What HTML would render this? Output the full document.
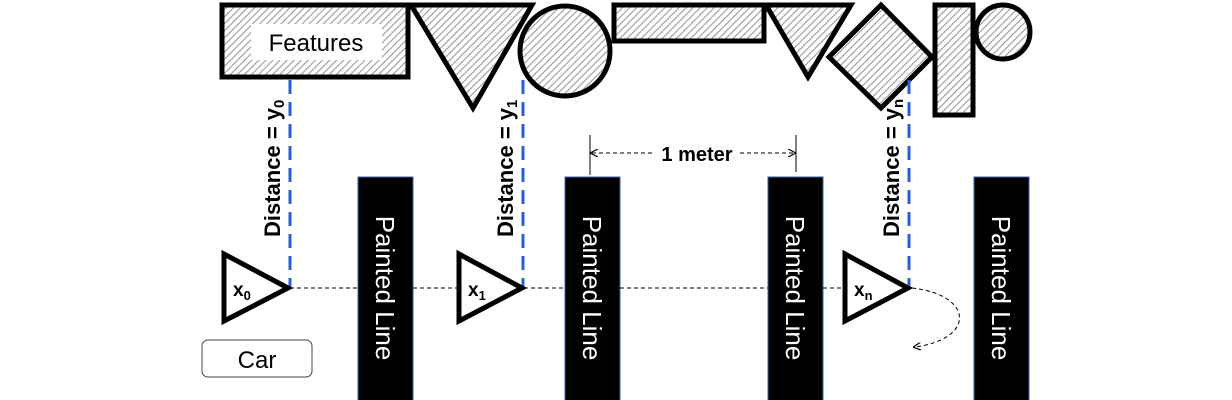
<!DOCTYPE html>
<html><head><meta charset="utf-8"><style>
html,body{margin:0;padding:0;background:#fff}
svg{display:block}
text{font-family:"Liberation Sans",sans-serif}
</style></head><body>
<svg width="1232" height="400" viewBox="0 0 1232 400">
<defs>
<pattern id="hatch" patternUnits="userSpaceOnUse" width="5" height="5" patternTransform="rotate(45)">
<rect width="5" height="5" fill="#fff"/><line x1="0" y1="0" x2="0" y2="5" stroke="#9a9a9a" stroke-width="2.2"/>
</pattern>
<marker id="ah" markerWidth="8" markerHeight="8" refX="7" refY="4" orient="auto"><path d="M0,0 L8,4 L0,8" fill="none" stroke="#000" stroke-width="1.2"/></marker>
</defs>
<g stroke="#000" stroke-width="5" fill="url(#hatch)">
<rect x="222" y="5" width="186" height="72"/>
<polygon points="411,5 532,5 473,108"/>
<circle cx="565" cy="51" r="45"/>
<rect x="614" y="5" width="150" height="36"/>
<polygon points="766,5 851,5 808,77"/>
<polygon points="881,5 932,57 881,108 829,57"/>
<rect x="935" y="5" width="38" height="110"/>
<circle cx="1003" cy="32" r="27"/>
</g>
<rect x="251" y="24" width="131" height="36" fill="#fff"/>
<text x="316" y="51" font-size="24" text-anchor="middle">Features</text>
<g>
<g><rect x="358" y="177" width="55" height="225" fill="#000" stroke="#3a5cb0" stroke-width="1"/><text transform="translate(376,288) rotate(90)" font-size="26" fill="#fff" text-anchor="middle">Painted Line</text></g>
<g><rect x="565" y="177" width="55" height="225" fill="#000" stroke="#3a5cb0" stroke-width="1"/><text transform="translate(583,288) rotate(90)" font-size="26" fill="#fff" text-anchor="middle">Painted Line</text></g>
<g><rect x="768" y="177" width="55" height="225" fill="#000" stroke="#3a5cb0" stroke-width="1"/><text transform="translate(786,288) rotate(90)" font-size="26" fill="#fff" text-anchor="middle">Painted Line</text></g>
<g><rect x="974" y="177" width="55" height="225" fill="#000" stroke="#3a5cb0" stroke-width="1"/><text transform="translate(992,288) rotate(90)" font-size="26" fill="#fff" text-anchor="middle">Painted Line</text></g>
</g>
<g stroke="#000" stroke-width="1" stroke-dasharray="4,3">
<line x1="290" y1="288" x2="358" y2="288"/><line x1="413" y1="288" x2="460" y2="288"/><line x1="524" y1="288" x2="565" y2="288"/><line x1="620" y1="288" x2="768" y2="288"/><line x1="823" y1="288" x2="845" y2="288"/>
</g>
<g stroke="#2b5fd0" stroke-width="3" stroke-dasharray="14,8">
<line x1="290" y1="80" x2="290" y2="288"/>
<line x1="523" y1="80" x2="523" y2="288"/>
<line x1="909" y1="80" x2="909" y2="288"/>
</g>
<g font-size="22" font-weight="bold">
<text transform="translate(280,237) rotate(-90)">Distance = y<tspan font-size="15" dy="4">0</tspan></text>
<text transform="translate(513,237) rotate(-90)">Distance = y<tspan font-size="15" dy="4">1</tspan></text>
<text transform="translate(899,237) rotate(-90)">Distance = y<tspan font-size="15" dy="4">n</tspan></text>
</g>
<g stroke="#000" stroke-width="5" fill="#fff">
<polygon points="224,254 224,321 288,288"/>
<polygon points="459,254 459,321 522,288"/>
<polygon points="845,254 845,321 908,288"/>
</g>
<g font-size="19" font-weight="bold">
<text x="233" y="296">x<tspan font-size="13" dy="4">0</tspan></text>
<text x="468" y="296">x<tspan font-size="13" dy="4">1</tspan></text>
<text x="854" y="296">x<tspan font-size="13" dy="4">n</tspan></text>
</g>
<rect x="202" y="340" width="110" height="37" rx="6" fill="#fff" stroke="#444" stroke-width="1"/>
<text x="257" y="368" font-size="24" text-anchor="middle">Car</text>
<g>
<line x1="590" y1="135" x2="590" y2="175" stroke="#000" stroke-width="1"/>
<line x1="796" y1="135" x2="796" y2="172" stroke="#000" stroke-width="1"/>
<line x1="652" y1="153" x2="591" y2="153" stroke="#000" stroke-width="1" stroke-dasharray="4,3" marker-end="url(#ah)"/>
<line x1="740" y1="153" x2="795" y2="153" stroke="#000" stroke-width="1" stroke-dasharray="4,3" marker-end="url(#ah)"/>
<text x="697" y="161" font-size="20" font-weight="bold" text-anchor="middle">1 meter</text>
</g>
<path d="M912,288 C975,295 975,340 914,347" fill="none" stroke="#000" stroke-width="1" stroke-dasharray="4,3" marker-end="url(#ah)"/>
</svg>
</body></html>
